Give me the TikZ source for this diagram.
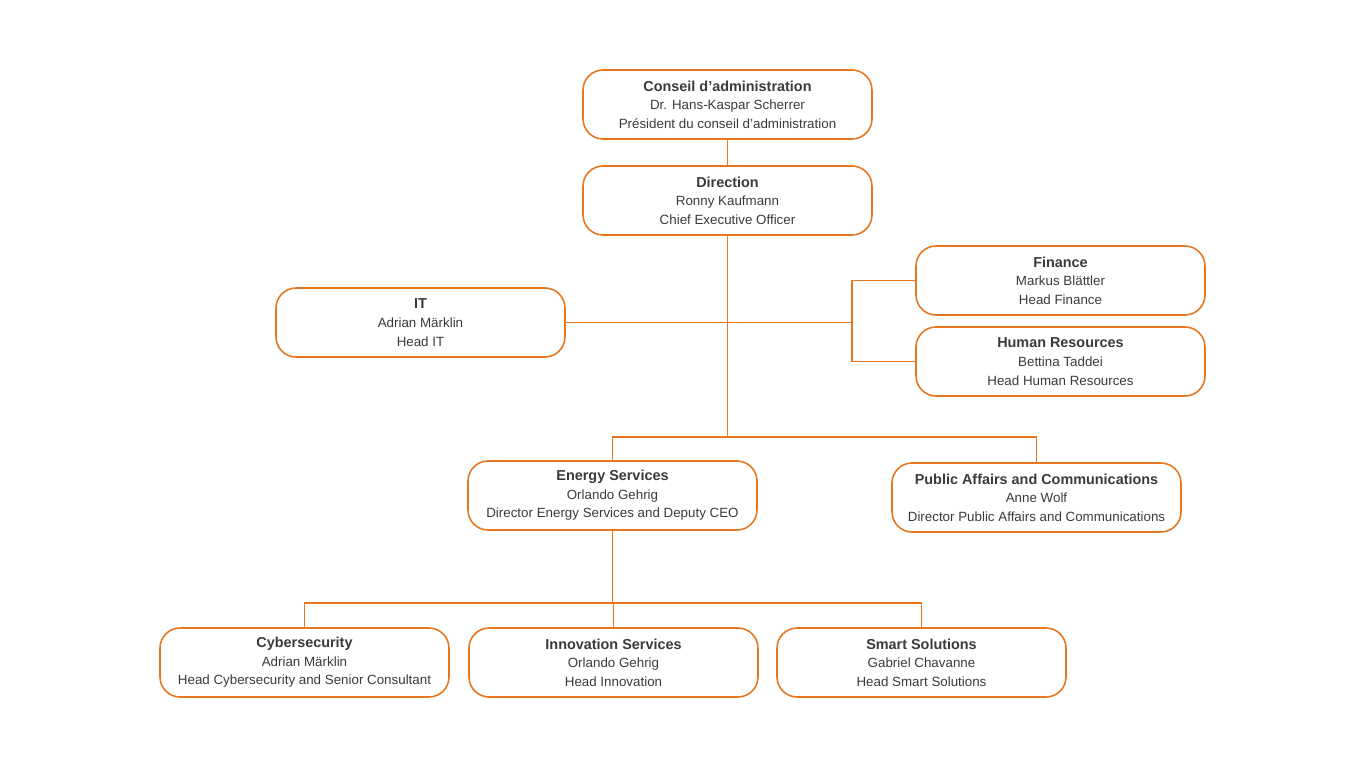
\documentclass[tikz,border=0pt]{standalone}
\usepackage{fontspec}
\setmainfont{Liberation Sans}
\definecolor{orgorange}{HTML}{E8761E}
\definecolor{orgtext}{HTML}{3A3A3A}
\tikzset{
  unit/.style={draw=orgorange, line width=0.9pt, rounded corners=0.4cm,
    minimum width=5.78cm, minimum height=1.38cm, align=center,
    text=orgtext, font=\fontsize{7.6}{10.6}\selectfont},
  link/.style={draw=orgorange, line width=0.8pt}
}
\newcommand{\unitname}[1]{{\fontsize{8.2}{10.6}\selectfont\bfseries #1}}
\begin{document}
\begin{tikzpicture}[x=0.02cm, y=-0.02cm]
  \useasboundingbox (0,0) rectangle (1366,768);
  \node[unit] (board) at (727.5,104.5) {\unitname{Conseil d'administration}\\Dr. Hans-Kaspar Scherrer\\Président du conseil d'administration};
  \node[unit] (dir) at (727.5,200.5) {\unitname{Direction}\\Ronny Kaufmann\\Chief Executive Officer};
  \node[unit] (it) at (420.5,322.5) {\unitname{IT}\\Adrian Märklin\\Head IT};
  \node[unit] (fin) at (1060.5,280.5) {\unitname{Finance}\\Markus Blättler\\Head Finance};
  \node[unit] (hr) at (1060.5,361.5) {\unitname{Human Resources}\\Bettina Taddei\\Head Human Resources};
  \node[unit] (energy) at (612.5,495.5) {\unitname{Energy Services}\\Orlando Gehrig\\Director Energy Services and Deputy CEO};
  \node[unit] (public) at (1036.5,497.5) {\unitname{Public Affairs and Communications}\\Anne Wolf\\Director Public Affairs and Communications};
  \node[unit] (cyber) at (304.5,662.5) {\unitname{Cybersecurity}\\Adrian Märklin\\Head Cybersecurity and Senior Consultant};
  \node[unit] (innov) at (613.5,662.5) {\unitname{Innovation Services}\\Orlando Gehrig\\Head Innovation};
  \node[unit] (smart) at (921.5,662.5) {\unitname{Smart Solutions}\\Gabriel Chavanne\\Head Smart Solutions};
  % junctions
  \coordinate (mid) at (727.5,437);
  \coordinate (staff) at (852,322.5);
  \coordinate (sub) at (612.5,603);
  \draw[link] (board) -- (dir);
  \draw[link] (dir) -- (mid);
  \draw[link] (it.east) -- (staff);
  \draw[link] (fin.west) -| (staff) |- (hr.west);
  \draw[link] (mid) -| (energy.north);
  \draw[link] (mid) -| (public.north);
  \draw[link] (energy) -- (sub);
  \draw[link] (sub) -| (cyber.north);
  \draw[link] (sub) -| (innov.north);
  \draw[link] (sub) -| (smart.north);
\end{tikzpicture}
\end{document}
